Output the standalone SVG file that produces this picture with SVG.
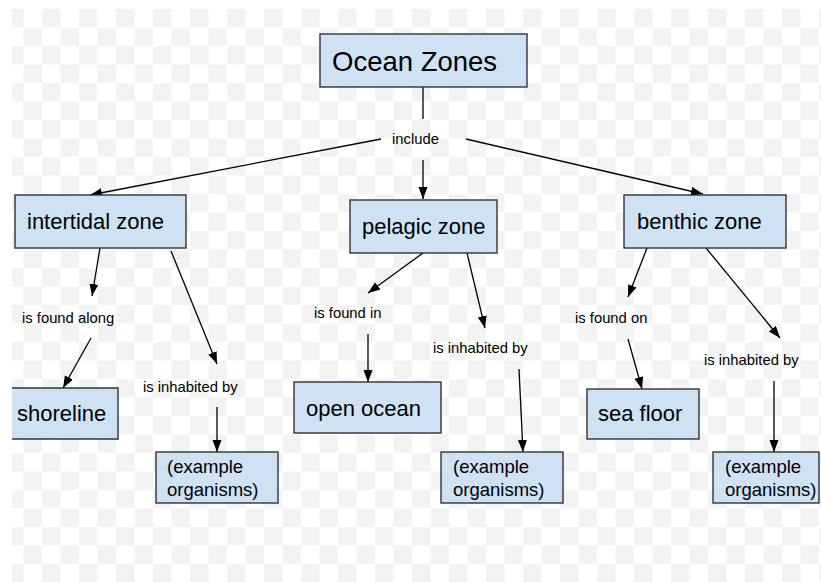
<svg xmlns="http://www.w3.org/2000/svg" width="821" height="582" viewBox="0 0 821 582">
<style>
.box{fill:#cfe2f3;stroke:#333;stroke-width:1.4}
.t{font-family:"Liberation Sans",Arial,sans-serif;fill:#000}
.big{font-size:22px}
.org{font-size:18.5px}
.lbl{font-size:14.8px}
.c{stroke:#000;stroke-width:1.3;fill:none;marker-end:url(#ah)}
.p{stroke:#000;stroke-width:1.3;fill:none}
</style>
<defs>
<pattern id="chk" patternUnits="userSpaceOnUse" x="5" y="9" width="37" height="37">
<rect width="37" height="37" fill="#fff"/>
<rect x="0" y="0" width="18.5" height="18.5" fill="#f3f3f3"/>
<rect x="18.5" y="18.5" width="18.5" height="18.5" fill="#f3f3f3"/>
</pattern>
<marker id="ah" markerUnits="userSpaceOnUse" markerWidth="13" markerHeight="10" refX="12" refY="4.5" orient="auto">
<path d="M0,0 L12,4.5 L0,9 z" fill="#000"/>
</marker>
</defs>
<rect width="821" height="582" fill="#fff"/>
<rect x="12" y="9" width="809" height="573" fill="url(#chk)"/>

<g id="connectors">
<line class="p" x1="423" y1="87" x2="423" y2="119"/>
<line class="c" x1="423" y1="160" x2="423" y2="199"/>
<line class="c" x1="381" y1="139" x2="90" y2="195"/>
<line class="c" x1="466" y1="139" x2="703" y2="194"/>
<line class="c" x1="100" y1="248" x2="92" y2="296"/>
<line class="c" x1="91" y1="338" x2="63" y2="388"/>
<line class="c" x1="171" y1="251" x2="217" y2="364"/>
<line class="c" x1="217" y1="407" x2="217" y2="452"/>
<line class="c" x1="423" y1="253" x2="368" y2="293"/>
<line class="c" x1="368" y1="334" x2="368" y2="382"/>
<line class="c" x1="467" y1="253" x2="485" y2="328"/>
<line class="c" x1="519" y1="369" x2="523" y2="452"/>
<line class="c" x1="647" y1="248" x2="628" y2="297"/>
<line class="c" x1="628" y1="339" x2="642" y2="389"/>
<line class="c" x1="706" y1="248" x2="780" y2="338"/>
<line class="c" x1="774" y1="381" x2="774" y2="452"/>
<text class="t lbl" x="392" y="144">include</text>
<text class="t lbl" x="22" y="323">is found along</text>
<text class="t lbl" x="143" y="392">is inhabited by</text>
<text class="t lbl" x="314" y="318">is found in</text>
<text class="t lbl" x="433" y="353">is inhabited by</text>
<text class="t lbl" x="575" y="323">is found on</text>
<text class="t lbl" x="704" y="365">is inhabited by</text>
</g>

<g id="ocean-zones">
<rect class="box" x="320" y="34" width="207" height="53"/>
<text class="t" x="332" y="71" font-size="27.5">Ocean Zones</text>
</g>
<g id="intertidal-zone">
<rect class="box" x="15" y="195" width="171" height="53"/>
<text class="t big" x="27" y="229">intertidal zone</text>
</g>
<g id="pelagic-zone">
<rect class="box" x="350" y="200" width="147" height="53"/>
<text class="t big" x="362" y="234">pelagic zone</text>
</g>
<g id="benthic-zone">
<rect class="box" x="624" y="195" width="162" height="53"/>
<text class="t big" x="637" y="229">benthic zone</text>
</g>
<g id="shoreline">
<rect x="12" y="388" width="106" height="51" fill="#cfe2f3"/>
<path d="M12,388 H118 V439 H12" fill="none" stroke="#333" stroke-width="1.4"/>
<text class="t big" x="17" y="421">shoreline</text>
</g>
<g id="open-ocean">
<rect class="box" x="294" y="382" width="147" height="51"/>
<text class="t big" x="306" y="416">open ocean</text>
</g>
<g id="sea-floor">
<rect class="box" x="587" y="389" width="112" height="50"/>
<text class="t big" x="598" y="421">sea floor</text>
</g>
<g id="organisms-1">
<rect class="box" x="156" y="452" width="122" height="51"/>
<text class="t org" x="167" y="473">(example</text>
<text class="t org" x="167" y="496">organisms)</text>
</g>
<g id="organisms-2">
<rect class="box" x="441" y="452" width="122" height="51"/>
<text class="t org" x="453" y="473">(example</text>
<text class="t org" x="453" y="496">organisms)</text>
</g>
<g id="organisms-3">
<rect class="box" x="713" y="452" width="106" height="51"/>
<text class="t org" x="725" y="473">(example</text>
<text class="t org" x="725" y="496">organisms)</text>
</g>
</svg>
